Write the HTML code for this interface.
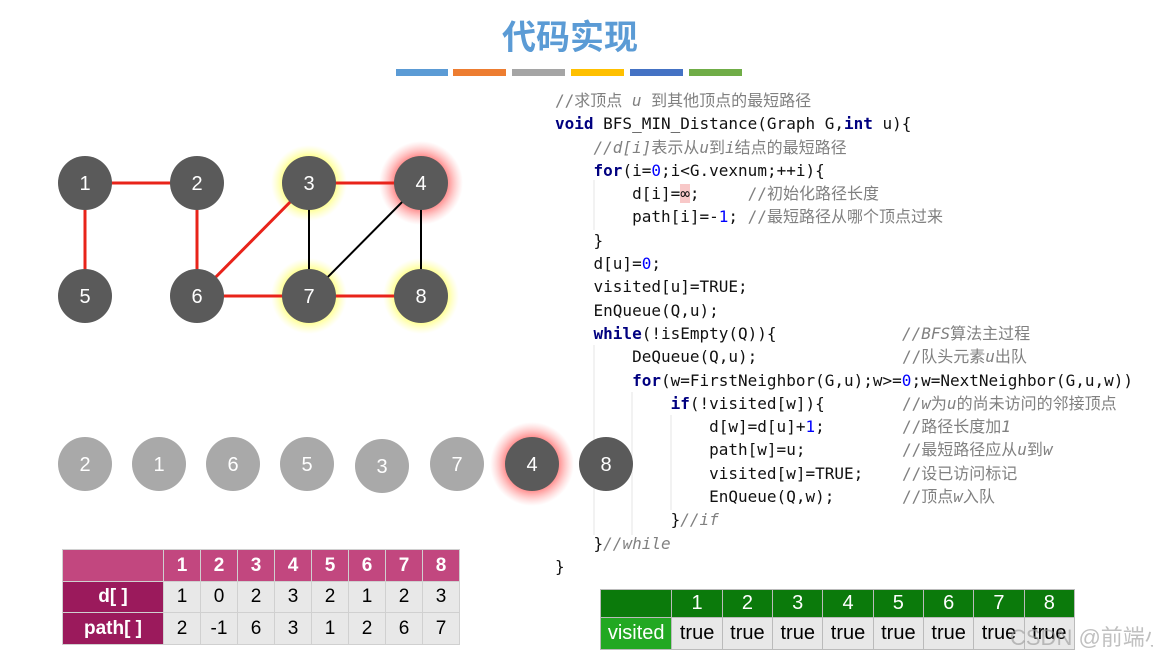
<!DOCTYPE html>
<html><head><meta charset="utf-8"><style>
body{margin:0;width:1153px;height:654px;background:#fff;position:relative;overflow:hidden;font-family:"Liberation Sans","Noto Sans CJK SC",sans-serif}
.title{position:absolute;left:0;width:1140px;top:10px;text-align:center;font-size:34px;font-weight:bold;color:#5b9bd5}
.bar{position:absolute;top:69px;height:7px}
.code{position:absolute;left:555px;top:89px;font-family:"DejaVu Sans Mono","Noto Sans CJK SC",monospace;font-size:16px;line-height:23.3px;color:#111;white-space:pre}
.code div{height:23.3px;position:relative}
.code div b.cm{position:absolute;left:347px;top:0;font-weight:normal}
.k{color:#000080;font-weight:bold}.n{color:#0000ff}.c{color:#808080}.ci{color:#808080;font-style:italic}
table{position:absolute;border-collapse:collapse;font-family:"Liberation Sans",sans-serif;table-layout:fixed}
td{padding:0;text-align:center}
.t1 td{border:1px solid #d0d0d0}.t2 td{border:1px solid #bbb}
</style></head><body>
<div class="title">代码实现</div>
<div class="bar" style="left:396px;width:52px;background:#5b9bd5"></div>
<div class="bar" style="left:453px;width:53px;background:#ed7d31"></div>
<div class="bar" style="left:512px;width:53px;background:#a5a5a5"></div>
<div class="bar" style="left:571px;width:53px;background:#ffc000"></div>
<div class="bar" style="left:630px;width:53px;background:#4472c4"></div>
<div class="bar" style="left:689px;width:53px;background:#70ad47"></div>

<svg width="1153" height="654" style="position:absolute;left:0;top:0">
<defs>
<radialGradient id="gy"><stop offset="0.6" stop-color="#ffff60"/><stop offset="1" stop-color="#ffffa0" stop-opacity="0"/></radialGradient>
<radialGradient id="gr"><stop offset="0.6" stop-color="#ff8080"/><stop offset="1" stop-color="#ffb0b0" stop-opacity="0"/></radialGradient>
</defs>
<circle cx="309" cy="183" r="38" fill="url(#gy)"/>
<circle cx="309" cy="296" r="38" fill="url(#gy)"/>
<circle cx="421" cy="296" r="38" fill="url(#gy)"/>
<circle cx="421" cy="183" r="42" fill="url(#gr)"/>
<circle cx="532" cy="464" r="42" fill="url(#gr)"/>
<g stroke="#e8231a" stroke-width="3">
<line x1="85" y1="183" x2="197" y2="183"/><line x1="85" y1="183" x2="85" y2="296"/>
<line x1="197" y1="183" x2="197" y2="296"/><line x1="197" y1="296" x2="309" y2="183"/>
<line x1="309" y1="183" x2="421" y2="183"/><line x1="197" y1="296" x2="421" y2="296"/>
</g>
<g stroke="#000" stroke-width="2">
<line x1="309" y1="183" x2="309" y2="296"/><line x1="421" y1="183" x2="309" y2="296"/><line x1="421" y1="183" x2="421" y2="296"/>
</g>
<g stroke="#e6e6e6" stroke-width="1">
<line x1="594" y1="180" x2="594" y2="230"/><line x1="594" y1="345" x2="594" y2="535"/><line x1="632" y1="392" x2="632" y2="535"/><line x1="671" y1="415" x2="671" y2="510"/>
</g>
<g fill="#5a5a5a">
<circle cx="85" cy="183" r="27"/><circle cx="197" cy="183" r="27"/><circle cx="309" cy="183" r="27"/><circle cx="421" cy="183" r="27"/>
<circle cx="85" cy="296" r="27"/><circle cx="197" cy="296" r="27"/><circle cx="309" cy="296" r="27"/><circle cx="421" cy="296" r="27"/>
<circle cx="532" cy="464" r="27"/><circle cx="606" cy="464" r="27"/>
</g>
<g fill="#a9a9a9">
<circle cx="85" cy="464" r="27"/><circle cx="159" cy="464" r="27"/><circle cx="233" cy="464" r="27"/><circle cx="307" cy="464" r="27"/><circle cx="382" cy="466" r="27"/><circle cx="457" cy="464" r="27"/>
</g>
<g fill="#fff" font-family="Liberation Sans" font-size="20" text-anchor="middle">
<text x="85" y="190">1</text><text x="197" y="190">2</text><text x="309" y="190">3</text><text x="421" y="190">4</text>
<text x="85" y="303">5</text><text x="197" y="303">6</text><text x="309" y="303">7</text><text x="421" y="303">8</text>
<text x="85" y="471">2</text><text x="159" y="471">1</text><text x="233" y="471">6</text><text x="307" y="471">5</text><text x="382" y="473">3</text><text x="457" y="471">7</text><text x="532" y="471">4</text><text x="606" y="471">8</text>
</g>
</svg>

<div class="code"><div><span class="c">//求顶点 <i>u</i> 到其他顶点的最短路径</span></div><div><span class="k">void</span> BFS_MIN_Distance(Graph G,<span class="k">int</span> u){</div><div>    <span class="ci">//d[i]</span><span class="c">表示从</span><span class="ci">u</span><span class="c">到</span><span class="ci">i</span><span class="c">结点的最短路径</span></div><div>    <span class="k">for</span>(i=<span class="n">0</span>;i&lt;G.vexnum;++i){</div><div>        d[i]=<span style="background:#f8c8c8">∞</span>;     <span class="c">//初始化路径长度</span></div><div>        path[i]=-<span class="n">1</span>; <span class="c">//最短路径从哪个顶点过来</span></div><div>    }</div><div>    d[u]=<span class="n">0</span>;</div><div>    visited[u]=TRUE;</div><div>    EnQueue(Q,u);</div><div>    <span class="k">while</span>(!isEmpty(Q)){<b class="cm"><span class="ci">//BFS</span><span class="c">算法主过程</span></b></div><div>        DeQueue(Q,u);<b class="cm"><span class="c">//队头元素</span><span class="ci">u</span><span class="c">出队</span></b></div><div>        <span class="k">for</span>(w=FirstNeighbor(G,u);w&gt;=<span class="n">0</span>;w=NextNeighbor(G,u,w))</div><div>            <span class="k">if</span>(!visited[w]){<b class="cm"><span class="c">//</span><span class="ci">w</span><span class="c">为</span><span class="ci">u</span><span class="c">的尚未访问的邻接顶点</span></b></div><div>                d[w]=d[u]+<span class="n">1</span>;<b class="cm"><span class="c">//路径长度加</span><span class="ci">1</span></b></div><div>                path[w]=u;<b class="cm"><span class="c">//最短路径应从</span><span class="ci">u</span><span class="c">到</span><span class="ci">w</span></b></div><div>                visited[w]=TRUE;<b class="cm"><span class="c">//设已访问标记</span></b></div><div>                EnQueue(Q,w);<b class="cm"><span class="c">//顶点</span><span class="ci">w</span><span class="c">入队</span></b></div><div>            }<span class="ci">//if</span></div><div>    }<span class="ci">//while</span></div><div>}</div></div>

<table class="t1" style="left:62px;top:549px;width:398px;font-size:19px">
<colgroup><col style="width:101px"><col span="8" style="width:37px"></colgroup>
<tr style="height:32px;background:#c2477f;color:#fff;font-weight:bold"><td></td><td>1</td><td>2</td><td>3</td><td>4</td><td>5</td><td>6</td><td>7</td><td>8</td></tr>
<tr style="height:31px;background:#e8e8e8"><td style="background:#9b1a5c;color:#fff;font-weight:bold">d[ ]</td><td>1</td><td>0</td><td>2</td><td>3</td><td>2</td><td>1</td><td>2</td><td>3</td></tr>
<tr style="height:32px;background:#e8e8e8"><td style="background:#9b1a5c;color:#fff;font-weight:bold">path[ ]</td><td>2</td><td>-1</td><td>6</td><td>3</td><td>1</td><td>2</td><td>6</td><td>7</td></tr>
</table>
<table class="t2" style="left:600px;top:589px;width:475px;font-size:20px">
<colgroup><col style="width:71px"><col span="8" style="width:50px"></colgroup>
<tr style="height:28px;background:#0b7a0b;color:#fff"><td></td><td>1</td><td>2</td><td>3</td><td>4</td><td>5</td><td>6</td><td>7</td><td>8</td></tr>
<tr style="height:32px;background:#e8e8e8"><td style="background:#22a822;color:#fff">visited</td><td>true</td><td>true</td><td>true</td><td>true</td><td>true</td><td>true</td><td>true</td><td>true</td></tr>
</table>
<div style="position:absolute;left:1010px;top:620px;font-size:22px;color:rgba(150,150,150,0.6);white-space:nowrap">CSDN @前端小马</div>
</body></html>
